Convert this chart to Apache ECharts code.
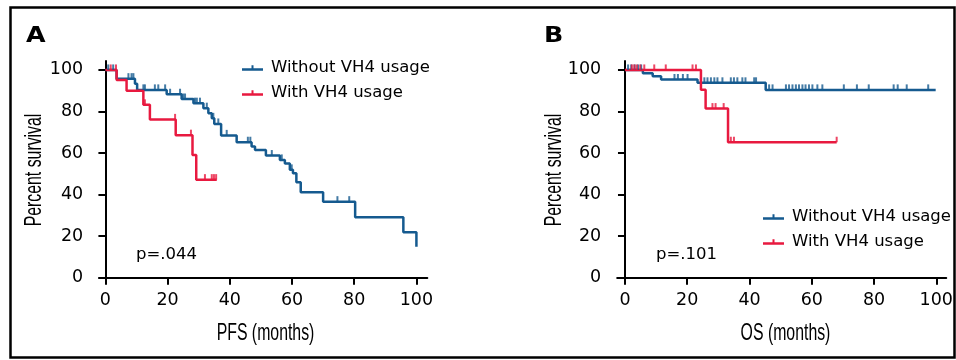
<!DOCTYPE html>
<html>
<head>
<meta charset="utf-8">
<script src="https://cdn.jsdelivr.net/npm/echarts@6/dist/echarts.min.js"></script>
<style>
  html, body { margin: 0; padding: 0; background: #fff; }
  #chart { width: 956px; height: 360px; }
</style>
</head>
<body>
<div id="chart"></div>
<script>
// Kaplan-Meier curves: event times (months) and survival (%)
const pfsWithoutTimes = [0, 3.6, 9.5, 10.2, 19.7, 24.5, 28.3, 31.5, 33.1, 34.2, 35.0, 37.2, 42.2, 47.0, 48.1, 51.6, 56.1, 57.7, 59.3, 60.3, 61.4, 62.8, 70.0, 80.3, 95.8, 100]
const pfsWithoutSurv = [100, 95.8, 93.4, 90.4, 88.3, 86.0, 84.0, 81.6, 79.2, 76.7, 74.0, 68.5, 65.2, 63.1, 61.5, 58.8, 56.7, 55.0, 51.9, 50.3, 46.0, 41.1, 36.6, 29.1, 21.9, 14.9]
const pfsWithoutCensor = [0.9, 2.5, 7.4, 8.4, 9.0, 12.2, 12.7, 15.9, 17, 19.2, 20.8, 24, 25, 25.6, 28.8, 29.4, 30.4, 32.6, 34.7, 36.3, 39, 45.8, 46.6, 53.5, 56.7, 59.9, 74.6, 78.4]

const pfsWithTimes = [0, 3.6, 6.8, 12.2, 14.3, 22.6, 28.0, 29.2, 35.8]
const pfsWithSurv = [100, 95.2, 90.0, 83.2, 76.2, 68.6, 59.0, 47.2, 47.2]
const pfsWithCensor = [1.7, 3.4, 12.7, 22.4, 27.5, 32, 34.2, 34.9, 35.6]

const osWithoutTimes = [0, 5.75, 8.9, 11.6, 23.3, 45.2, 99.8]
const osWithoutSurv = [100, 98.4, 97.0, 95.4, 93.8, 90.4, 90.4]
const osWithoutCensor = [1, 2, 3.1, 4.2, 5.2, 15.9, 17, 18.6, 20.1, 25.5, 26.5, 27.6, 28.7, 29.7, 31.3, 34, 35, 36.1, 37.7, 38.7, 41.5, 42.1, 46.3, 47.4, 51.7, 52.7, 53.8, 54.9, 55.9, 57, 58, 59.1, 60.2, 61.8, 63.4, 70.3, 74.5, 78.3, 86.3, 87.6, 90.5, 97.4]

const osWithTimes = [0, 24.4, 25.9, 33.1, 68]
const osWithSurv = [100, 90.5, 81.4, 65.2, 65.2]
const osWithCensor = [2.2, 3, 3.8, 4.9, 6.2, 9.4, 13.1, 21.7, 22.8, 28.1, 29.1, 31.7, 34, 35, 68]

const tickValues = [0, 20, 40, 60, 80, 100]
const groupNames = ['Without VH4 usage', 'With VH4 usage']
const pValues = ['p=.044', 'p=.101']
const xTitles = ['PFS (months)', 'OS (months)']
const yTitle = 'Percent survival'

const BLUE = '#155a8f'
const RED = '#e8193f'
const TEXT = "'DejaVu Sans', sans-serif"
const NARROW = "'Liberation Sans', Arial, sans-serif"

function curve(times, surv) {
  return times.map((t, i) => [t, surv[i]])
}

// censored marks sit on the curve at their time
function censorPoints(times, surv, cens) {
  return cens.map(c => {
    let s = surv[0]
    for (let i = 0; i < times.length; i++) {
      if (times[i] <= c) s = surv[i]
    }
    return [c, s]
  })
}

function xAxisFor(gridIndex, min, max) {
  return {
    type: 'value', gridIndex, min, max,
    axisLine: { onZero: true, lineStyle: { color: '#000', width: 2 } },
    axisTick: { length: 7, lineStyle: { color: '#000', width: 2 }, customValues: tickValues },
    axisLabel: { margin: 14, fontFamily: TEXT, fontSize: 17.5, color: '#000', customValues: tickValues },
    splitLine: { show: false }
  }
}

function yAxisFor(gridIndex) {
  return {
    type: 'value', gridIndex, min: 0, max: 104.3,
    axisLine: { onZero: true, lineStyle: { color: '#000', width: 2 } },
    axisTick: { length: 7, lineStyle: { color: '#000', width: 2 }, customValues: tickValues },
    axisLabel: { margin: 16, fontFamily: TEXT, fontSize: 17.5, color: '#000', customValues: tickValues },
    splitLine: { show: false }
  }
}

function kmLine(name, idx, data, color) {
  return {
    name, type: 'line', step: 'end', xAxisIndex: idx, yAxisIndex: idx,
    data, showSymbol: false, symbol: 'none',
    lineStyle: { color, width: 2.5 }, itemStyle: { color },
    silent: true
  }
}

function censorMarks(idx, data, color) {
  return {
    name: 'censor', type: 'scatter', xAxisIndex: idx, yAxisIndex: idx,
    data, symbol: 'rect', symbolSize: [2, 5.5], symbolOffset: [0, -2.75],
    itemStyle: { color }, silent: true, z: 3
  }
}

// line with a small censor tick, as in the legend of the figure
const legendIcon = 'path://M9.5,0 h2 v3 h-2 z M0,3 h21 v2.5 h-21 z'

function legendAt(left, top) {
  return {
    left, top, orient: 'vertical', icon: legendIcon, padding: 0,
    itemWidth: 21, itemHeight: 5.5, itemGap: 7,
    data: groupNames,
    textStyle: { fontFamily: TEXT, fontSize: 16.5, color: '#000', lineHeight: 18, padding: [0, 0, 0, 3] },
    selectedMode: false
  }
}

// condensed axis titles: a sans face squeezed horizontally
function axisTitle(text, x, y, vertical) {
  return {
    type: 'text', x, y, rotation: vertical ? Math.PI / 2 : 0, scaleX: 0.66, silent: true,
    style: { text, fontFamily: NARROW, fontSize: 24, fill: '#000', align: 'center', verticalAlign: 'middle' }
  }
}

function panelLetter(text, x) {
  return {
    type: 'text', x, y: 36, scaleX: 1.15, silent: true,
    style: { text, fontFamily: TEXT, fontWeight: 'bold', fontSize: 22, fill: '#000', verticalAlign: 'middle' }
  }
}

const chart = echarts.init(document.getElementById('chart'))
chart.setOption({
  animation: false,
  backgroundColor: '#fff',
  grid: [
    { left: 99.2, top: 61, width: 328.1, height: 216.7 },
    { left: 617.2, top: 61, width: 330.8, height: 216.7 }
  ],
  xAxis: [xAxisFor(0, -2, 103.5), xAxisFor(1, -2.5, 103.2)],
  yAxis: [yAxisFor(0), yAxisFor(1)],
  legend: [legendAt(242, 59), legendAt(763, 208)],
  series: [
    kmLine(groupNames[0], 0, curve(pfsWithoutTimes, pfsWithoutSurv), BLUE),
    censorMarks(0, censorPoints(pfsWithoutTimes, pfsWithoutSurv, pfsWithoutCensor), BLUE),
    kmLine(groupNames[1], 0, curve(pfsWithTimes, pfsWithSurv), RED),
    censorMarks(0, censorPoints(pfsWithTimes, pfsWithSurv, pfsWithCensor), RED),
    kmLine(groupNames[0], 1, curve(osWithoutTimes, osWithoutSurv), BLUE),
    censorMarks(1, censorPoints(osWithoutTimes, osWithoutSurv, osWithoutCensor), BLUE),
    kmLine(groupNames[1], 1, curve(osWithTimes, osWithSurv), RED),
    censorMarks(1, censorPoints(osWithTimes, osWithSurv, osWithCensor), RED)
  ],
  graphic: [
    { type: 'rect', shape: { x: 10.5, y: 7.5, width: 944, height: 350 },
      style: { fill: 'none', stroke: '#000', lineWidth: 2.5 }, silent: true },
    panelLetter('A', 26),
    panelLetter('B', 544),
    axisTitle(xTitles[0], 265.5, 333, false),
    axisTitle(xTitles[1], 785.5, 333, false),
    axisTitle(yTitle, 34, 170, true),
    axisTitle(yTitle, 554, 170, true),
    { type: 'text', left: 136, top: 246,
      style: { text: pValues[0], fontFamily: TEXT, fontSize: 16.5, fill: '#000' } },
    { type: 'text', left: 656, top: 246,
      style: { text: pValues[1], fontFamily: TEXT, fontSize: 16.5, fill: '#000' } }
  ]
})
</script>
</body>
</html>
